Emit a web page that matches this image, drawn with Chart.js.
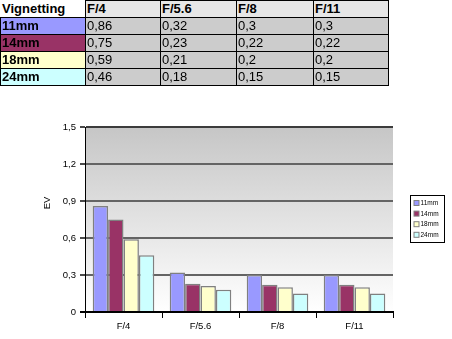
<!DOCTYPE html>
<html><head><meta charset="utf-8">
<script src="https://cdn.jsdelivr.net/npm/chart.js@4.4.0/dist/chart.umd.min.js"></script>
<style>
html,body{margin:0;padding:0;background:#fff;width:452px;height:339px;overflow:hidden;}
#wrap{position:relative;width:452px;height:339px;}
#c{position:absolute;left:0;top:0;width:452px;height:339px;}
#tbl{position:absolute;left:0;top:0;z-index:2;}
.cell{position:absolute;box-sizing:border-box;border:1px solid #000;font-family:"Liberation Sans",Arial,sans-serif;font-size:13px;line-height:15px;padding-left:1px;color:#000;white-space:nowrap;overflow:hidden;}
</style></head><body>
<div id="wrap"><canvas id="c" width="452" height="339"></canvas><div id="tbl"></div></div>
<script>
// ---- data ----
const tableTitle = 'Vignetting';
const categories = ['F/4', 'F/5.6', 'F/8', 'F/11'];
const seriesNames = ['11mm', '14mm', '18mm', '24mm'];
const values11 = [0.86, 0.32, 0.3, 0.3];
const values14 = [0.75, 0.23, 0.22, 0.22];
const values18 = [0.59, 0.21, 0.2, 0.2];
const values24 = [0.46, 0.18, 0.15, 0.15];
const yTickLabels = ['0', '0,3', '0,6', '0,9', '1,2', '1,5'];
const yAxisTitle = 'EV';

// ---- styles ----
const seriesValues = [values11, values14, values18, values24];
const seriesColors = ['#9999ff', '#993366', '#ffffcc', '#ccffff'];
const FONT = '"Liberation Sans", Arial, sans-serif';

// ---- table ----
const colX = [0, 85, 160, 236, 313, 388];
const rowY = [0, 17, 34, 51, 68, 85];
const fmt = v => String(v).replace('.', ',');
const tbl = document.getElementById('tbl');
const rows = [[tableTitle].concat(categories)];
seriesNames.forEach((n, i) => rows.push([n].concat(seriesValues[i].map(fmt))));
rows.forEach((row, r) => {
  row.forEach((txt, c) => {
    const d = document.createElement('div');
    d.className = 'cell';
    d.textContent = txt;
    d.style.left = colX[c] + 'px';
    d.style.top = rowY[r] + 'px';
    d.style.width = (colX[c + 1] - colX[c] + 1) + 'px';
    d.style.height = (rowY[r + 1] - rowY[r] + 1) + 'px';
    if (r === 0 && c === 0) { d.style.border = 'none'; d.style.paddingLeft = '2px'; d.style.paddingTop = '1px'; }
    if (r === 0 || c === 0) d.style.fontWeight = 'bold';
    if (r === 0) d.style.background = c === 0 ? '#ffffff' : '#e6e6e6';
    else d.style.background = c === 0 ? seriesColors[r - 1] : '#cccccc';
    tbl.appendChild(d);
  });
});

// ---- chart ----
const deco = {
  id: 'deco',
  beforeDraw(chart) {
    const {ctx, chartArea: a} = chart;
    const g = ctx.createLinearGradient(0, a.top, 0, a.bottom);
    g.addColorStop(0, '#c6c6c6');
    g.addColorStop(1, '#ffffff');
    ctx.save();
    ctx.fillStyle = g;
    ctx.fillRect(a.left, a.top, a.right - a.left, a.bottom - a.top);
    ctx.restore();
  },
  afterDraw(chart) {
    const {ctx, chartArea: a} = chart;
    ctx.save();
    // axis title
    ctx.translate(47.5, a.top + 76);
    ctx.rotate(-Math.PI / 2);
    ctx.font = '9.5px ' + FONT;
    ctx.fillStyle = '#000';
    ctx.textAlign = 'center';
    ctx.textBaseline = 'middle';
    ctx.fillText(yAxisTitle, 0, 0);
    ctx.restore();
    // legend
    ctx.save();
    const bx = a.right + 17.5, by = a.top + 68.5, bw = 34, bh = 47;
    ctx.fillStyle = '#fff';
    ctx.fillRect(bx, by, bw, bh);
    ctx.strokeStyle = '#000';
    ctx.lineWidth = 1;
    ctx.strokeRect(bx, by, bw, bh);
    ctx.font = '6.5px ' + FONT;
    ctx.textBaseline = 'middle';
    chart.data.datasets.forEach((ds, i) => {
      const cy = by + 7.5 + i * 10.6;
      ctx.fillStyle = ds.backgroundColor;
      ctx.fillRect(bx + 3.5, cy - 2.5, 5, 5);
      ctx.strokeStyle = '#808080';
      ctx.strokeRect(bx + 3.5, cy - 2.5, 5, 5);
      ctx.fillStyle = '#000';
      ctx.fillText(ds.label, bx + 10, cy + 0.5);
    });
    ctx.restore();
  }
};

new Chart(document.getElementById('c'), {
  type: 'bar',
  data: {
    labels: categories,
    datasets: seriesNames.map((n, i) => ({
      label: n,
      data: seriesValues[i],
      backgroundColor: seriesColors[i],
      borderColor: '#808080',
      borderWidth: 1.5,
      categoryPercentage: 0.8,
      barPercentage: 1.0
    }))
  },
  options: {
    responsive: false,
    animation: false,
    devicePixelRatio: 1,
    layout: {padding: {left: 0, top: 127, right: 59, bottom: 0}},
    plugins: {legend: {display: false}, tooltip: {enabled: false}},
    scales: {
      x: {
        afterFit(s) { s.height = 27; },
        grid: {display: true, drawOnChartArea: false, drawTicks: true, tickLength: 6, tickColor: '#000', tickWidth: 1, offset: true},
        border: {display: true, color: '#000', width: 2},
        ticks: {color: '#000', font: {family: FONT, size: 9.5}, padding: 3, maxRotation: 0}
      },
      y: {
        min: 0, max: 1.5,
        afterFit(s) { s.width = 85; },
        grid: {
          color: c => (c.tick && c.tick.value >= 1.49) ? '#3c3c3c' : '#646464',
          lineWidth: 2, tickLength: 5,
          tickColor: c => (c.tick && c.tick.value <= 0.01) ? '#000' : '#4a4a4a',
          tickWidth: 2
        },
        border: {display: true, color: '#000', width: 1},
        ticks: {
          stepSize: 0.3, color: '#000', font: {family: FONT, size: 9.5}, padding: 4,
          callback: (v, i) => yTickLabels[i]
        }
      }
    }
  },
  plugins: [deco]
});
</script>
</body></html>
